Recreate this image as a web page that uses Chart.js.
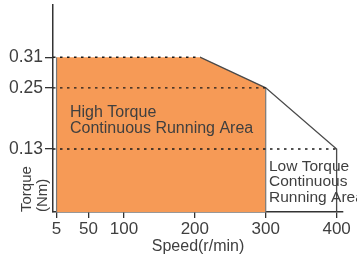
<!DOCTYPE html>
<html>
<head>
<meta charset="utf-8">
<script src="https://cdn.jsdelivr.net/npm/chart.js@4.4.1/dist/chart.umd.min.js"></script>
<style>
  html, body { margin: 0; padding: 0; background: #fff; }
  canvas { display: block; }
</style>
</head>
<body>
<canvas id="chart" width="357" height="260"></canvas>
<script>
// data
const speedPoints = [5, 208, 300, 400];          // r/min
const torquePoints = [0.31, 0.31, 0.25, 0.13];   // Nm
const xTickValues = [5, 50, 100, 200, 300, 400];
const yTickValues = [0.13, 0.25, 0.31];
const highLabel = ['High Torque', 'Continuous Running Area'];
const lowLabel = ['Low Torque', 'Continuous', 'Running Area'];
const yTitle = ['Torque', '(Nm)'];
const xTitle = 'Speed(r/min)';

const X_MIN = 0, X_MAX = 409;
const Y_MIN = 0.0063, Y_MAX = 0.4127;

const FONT = "'Liberation Sans', Arial, sans-serif";
const ORANGE = '#F69A56';
const TEXT = '#3f3f3f';
const AXIS = '#333';

const pt = (i) => ({ x: speedPoints[i], y: torquePoints[i] });

// dotted guide from the y axis to each corner
function guide(i) {
  return {
    data: [{ x: X_MIN, y: torquePoints[i] }, pt(i)],
    borderColor: '#1a1a1a', borderWidth: 1.4, borderDash: [2.5, 4.5],
    pointRadius: 0, fill: false, order: 1
  };
}

const datasets = [
  guide(1), guide(2), guide(3),
  // outer boundary (low torque area)
  {
    data: [pt(1), pt(2), pt(3), { x: speedPoints[3], y: 0 }],
    borderColor: '#4a4a4a', borderWidth: 1.3, pointRadius: 0, fill: false, order: 2
  },
  // edges of the high torque area
  {
    data: [{ x: speedPoints[0], y: 0 }, pt(0)],
    borderColor: '#777', borderWidth: 1.2, pointRadius: 0, fill: false, order: 2
  },
  {
    data: [pt(2), { x: speedPoints[2], y: 0 }],
    borderColor: '#777', borderWidth: 1.2, pointRadius: 0, fill: false, order: 2
  },
  // high torque area fill
  {
    data: [pt(0), pt(1), pt(2)],
    borderWidth: 0, borderColor: ORANGE, backgroundColor: ORANGE,
    pointRadius: 0, fill: 'origin', order: 3
  }
];

const textPlugin = {
  id: 'texts',
  afterDatasetsDraw(chart) {
    const ctx = chart.ctx;
    ctx.save();
    ctx.fillStyle = TEXT;
    ctx.textBaseline = 'alphabetic';
    ctx.textAlign = 'left';
    ctx.font = '16px ' + FONT;
    highLabel.forEach((t, i) => ctx.fillText(t, 70, 117 + i * 15.8));
    ctx.font = '15.5px ' + FONT;
    lowLabel.forEach((t, i) => ctx.fillText(t, 269, 171 + i * 15.3));

    // rotated y title, start-aligned at the bottom of the axis
    ctx.translate(0, chart.chartArea.bottom);
    ctx.rotate(-Math.PI / 2);
    ctx.font = '15px ' + FONT;
    ctx.fillText(yTitle[0], 0, 31);
    ctx.fillText(yTitle[1], 0, 47);
    ctx.restore();
  }
};

new Chart(document.getElementById('chart'), {
  type: 'line',
  data: { datasets },
  plugins: [textPlugin],
  options: {
    responsive: false,
    animation: false,
    layout: { padding: { top: 5, right: 14, left: 0, bottom: 0 } },
    plugins: { legend: { display: false }, tooltip: { enabled: false } },
    elements: { line: { tension: 0 } },
    scales: {
      x: {
        type: 'linear', min: X_MIN, max: X_MAX,
        afterBuildTicks: (s) => { s.ticks = xTickValues.map(v => ({ value: v })); },
        afterFit: (s) => { s.height = 48; s.paddingLeft = 0; s.paddingRight = 0; },
        grid: { display: true, drawOnChartArea: false, drawTicks: true, tickLength: 6, color: AXIS, lineWidth: 1.3 },
        border: { display: true, color: AXIS, width: 1.5 },
        ticks: { color: TEXT, font: { family: FONT, size: 17 }, padding: 1, maxRotation: 0, autoSkip: false },
        title: { display: true, text: xTitle, color: TEXT, font: { family: FONT, size: 16 }, padding: { top: 0, bottom: 4 } }
      },
      y: {
        type: 'linear', min: Y_MIN, max: Y_MAX,
        afterBuildTicks: (s) => { s.ticks = yTickValues.map(v => ({ value: v })); },
        afterFit: (s) => { s.width = 53; s.paddingTop = 0; s.paddingBottom = 0; },
        grid: { display: true, drawOnChartArea: false, drawTicks: true, tickLength: 8, color: AXIS, lineWidth: 1.3 },
        border: { display: true, color: AXIS, width: 1.5 },
        ticks: { color: TEXT, font: { family: FONT, size: 17.5 }, padding: 2, autoSkip: false,
                 callback: (v) => v.toFixed(2) }
      }
    }
  }
});
</script>
</body>
</html>
